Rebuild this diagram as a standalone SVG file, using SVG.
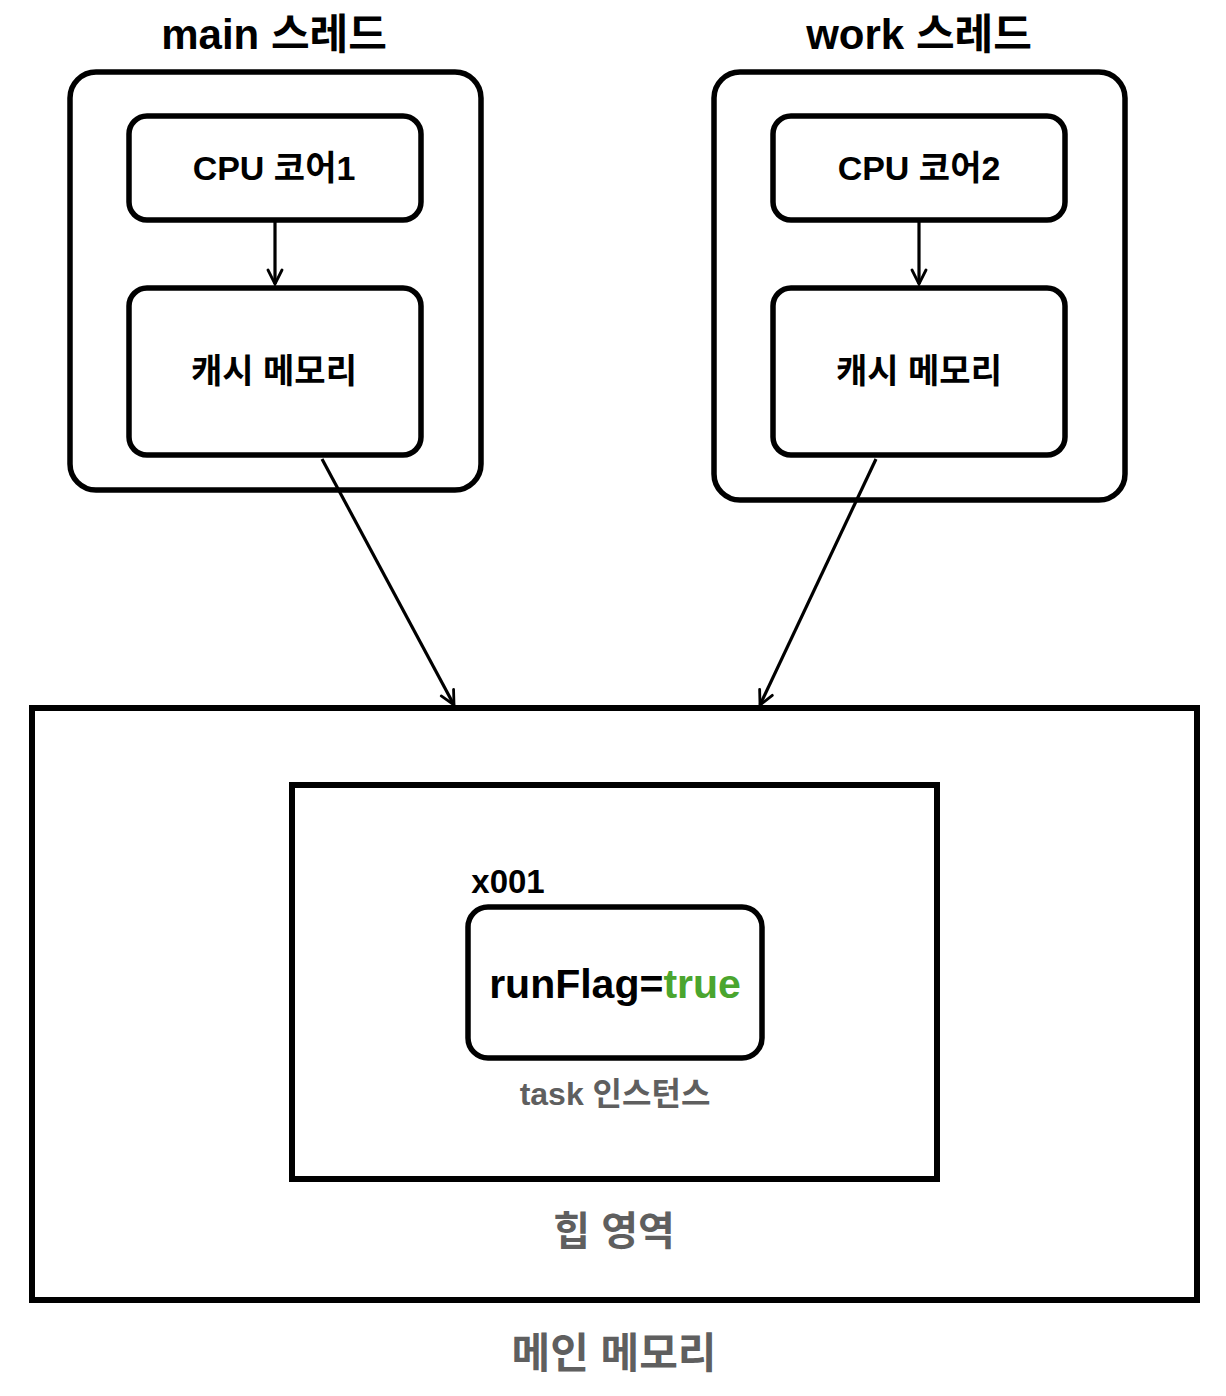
<svg xmlns="http://www.w3.org/2000/svg" width="1226" height="1396" viewBox="0 0 1226 1396">
<defs>
<marker id="arr" viewBox="0 0 20 20" refX="17" refY="10" markerWidth="20" markerHeight="20" markerUnits="userSpaceOnUse" orient="auto">
<path d="M3,3 L17,10 L3,17" fill="none" stroke="#000" stroke-width="2.8" stroke-linecap="round"/>
</marker>
<style>
.box{fill:#fff;stroke:#000;stroke-width:5.5}
.sq{fill:#fff;stroke:#000;stroke-width:6}
.t{font-family:"Liberation Sans","Noto Sans CJK KR",sans-serif;text-anchor:middle}
.b{font-weight:bold}
.g{fill:#5f5f5f}
.c{fill:none;stroke:#000;stroke-width:3.2}
</style>
</defs>
<rect width="1226" height="1396" fill="#fff"/>
<g id="main-memory">
<rect class="sq" x="32" y="708" width="1165" height="592"/>
<text class="t b g" x="614" y="1368" font-size="42">메인 메모리</text>
</g>
<g id="heap">
<rect class="sq" x="292" y="785" width="645" height="394" stroke-width="4.5"/>
<text class="t b g" x="614" y="1245" font-size="40">힙 영역</text>
</g>
<g id="task">
<text class="t b" x="508" y="893" font-size="33">x001</text>
<rect class="box" x="468" y="907" width="294" height="151" rx="20"/>
<text class="t b" x="615" y="998" font-size="41">runFlag=<tspan fill="#4aa52e">true</tspan></text>
<text class="t b g" x="615" y="1105" font-size="32">task 인스턴스</text>
</g>
<g id="main-thread">
<text class="t b" x="274" y="49" font-size="42">main 스레드</text>
<rect class="box" x="70" y="72" width="411" height="418" rx="26"/>
</g>
<g id="cpu1">
<rect class="box" x="129" y="116" width="292" height="104" rx="18"/>
<text class="t" x="274" y="180" font-size="34" font-weight="600">CPU 코어1</text>
</g>
<g id="cache1">
<rect class="box" x="129" y="288" width="292" height="167" rx="18"/>
<text class="t b" x="274" y="383" font-size="34">캐시 메모리</text>
</g>
<g id="work-thread">
<text class="t b" x="919" y="49" font-size="42">work 스레드</text>
<rect class="box" x="714" y="72" width="411" height="428" rx="26"/>
</g>
<g id="cpu2">
<rect class="box" x="773" y="116" width="292" height="104" rx="18"/>
<text class="t" x="919" y="180" font-size="34" font-weight="600">CPU 코어2</text>
</g>
<g id="cache2">
<rect class="box" x="773" y="288" width="292" height="167" rx="18"/>
<text class="t b" x="919" y="383" font-size="34">캐시 메모리</text>
</g>
<g id="connectors">
<line class="c" x1="275" y1="222" x2="275" y2="284" marker-end="url(#arr)"/>
<line class="c" x1="919" y1="222" x2="919" y2="284" marker-end="url(#arr)"/>
<line class="c" x1="322" y1="459" x2="454" y2="705" marker-end="url(#arr)"/>
<line class="c" x1="876" y1="459" x2="760" y2="705" marker-end="url(#arr)"/>
</g>
</svg>
